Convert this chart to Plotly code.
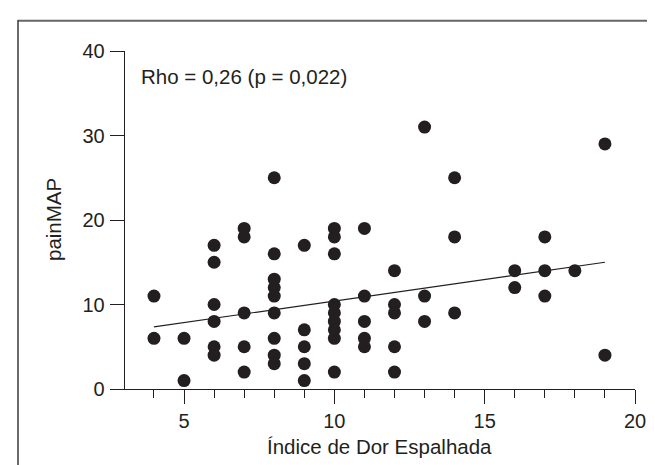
import plotly.graph_objects as go

# Data
dor_index = [4, 4,
             5, 5,
             6, 6, 6, 6, 6, 6,
             7, 7, 7, 7, 7,
             8, 8, 8, 8, 8, 8, 8, 8, 8,
             9, 9, 9, 9, 9,
             10, 10, 10, 10, 10, 10, 10, 10, 10,
             11, 11, 11, 11, 11,
             12, 12, 12, 12, 12,
             13, 13, 13,
             14, 14, 14,
             16, 16,
             17, 17, 17,
             18,
             19, 19]
pain_map = [11, 6,
            6, 1,
            17, 15, 10, 8, 5, 4,
            19, 18, 9, 5, 2,
            25, 16, 13, 12, 11, 9, 6, 4, 3,
            17, 7, 5, 3, 1,
            19, 18, 16, 10, 9, 8, 7, 6, 2,
            19, 11, 8, 6, 5,
            14, 10, 9, 5, 2,
            31, 11, 8,
            25, 18, 9,
            14, 12,
            18, 14, 11,
            14,
            29, 4]

trend_x = [4, 19]
trend_y = [7.35, 15.0]

x_major_ticks = [5, 10, 15, 20]
x_minor_ticks = [4, 6, 7, 8, 9, 11, 12, 13, 14, 16, 17, 18, 19]
y_ticks = [0, 10, 20, 30, 40]

annotation_text = "Rho = 0,26 (p = 0,022)"
x_title = "Índice de Dor Espalhada"
y_title = "painMAP"

INK = "#231f20"
FONT = "Liberation Sans, Arial, sans-serif"

fig = go.Figure()
fig.add_trace(go.Scatter(x=trend_x, y=trend_y, mode="lines",
                         line=dict(color=INK, width=1.2), hoverinfo="skip",
                         showlegend=False))
fig.add_trace(go.Scatter(x=dor_index, y=pain_map, mode="markers",
                         marker=dict(color=INK, size=13, line=dict(width=0)),
                         showlegend=False, cliponaxis=False))

W, H = 655, 465
L, R, T, B = 102, 28, 43, 84
pw = W - L - R
ph = H - T - B
x_min = 2.537

def px_to_paper_x(px):
    return (px - L) / pw

def px_to_paper_y(py):
    return (H - B - py) / ph

fig.update_layout(
    width=W, height=H,
    margin=dict(l=L, r=R, t=T, b=B, pad=0),
    paper_bgcolor="white", plot_bgcolor="white",
    font=dict(family=FONT, size=20, color=INK),
    showlegend=False,
    xaxis=dict(range=[x_min, 20], showgrid=False, zeroline=False,
               showline=True, linecolor=INK, linewidth=1.3,
               tickmode="array", tickvals=x_major_ticks,
               ticks="outside", ticklen=14, tickwidth=1.3, tickcolor=INK,
               tickfont=dict(size=20, color=INK),
               minor=dict(tickmode="array", tickvals=x_minor_ticks,
                          ticks="outside", ticklen=8, tickwidth=1.3,
                          tickcolor=INK, showgrid=False)),
    yaxis=dict(range=[0, 40], showgrid=False, zeroline=False,
               anchor="free", position=px_to_paper_x(115.8),
               showline=True, linecolor=INK, linewidth=1.3,
               tickmode="array", tickvals=y_ticks,
               ticks="outside", ticklen=14, tickwidth=1.3, tickcolor=INK,
               ticklabelstandoff=1,
               tickfont=dict(size=20, color=INK)),
)

fig.add_annotation(text=annotation_text, xref="paper", yref="paper",
                   x=px_to_paper_x(131), y=px_to_paper_y(68.7),
                   xanchor="left", yanchor="middle", showarrow=False,
                   font=dict(size=20.5, color=INK, family=FONT))
fig.add_annotation(text=x_title, xref="x", yref="paper",
                   x=11.5, y=px_to_paper_y(438),
                   xanchor="center", yanchor="middle", showarrow=False,
                   font=dict(size=20.5, color=INK, family=FONT))
fig.add_annotation(text=y_title, xref="paper", yref="paper",
                   x=px_to_paper_x(45), y=0.5, textangle=-90,
                   xanchor="center", yanchor="middle", showarrow=False,
                   font=dict(size=20.5, color=INK, family=FONT))

# Frame lines
fig.add_shape(type="line", xref="paper", yref="paper",
              x0=px_to_paper_x(10), x1=px_to_paper_x(660),
              y0=px_to_paper_y(12.7), y1=px_to_paper_y(12.7),
              line=dict(color="#666666", width=2))
fig.add_shape(type="line", xref="paper", yref="paper",
              x0=px_to_paper_x(10), x1=px_to_paper_x(10),
              y0=px_to_paper_y(12), y1=px_to_paper_y(470),
              line=dict(color="#444444", width=1.6))

fig.write_html("out.html")
